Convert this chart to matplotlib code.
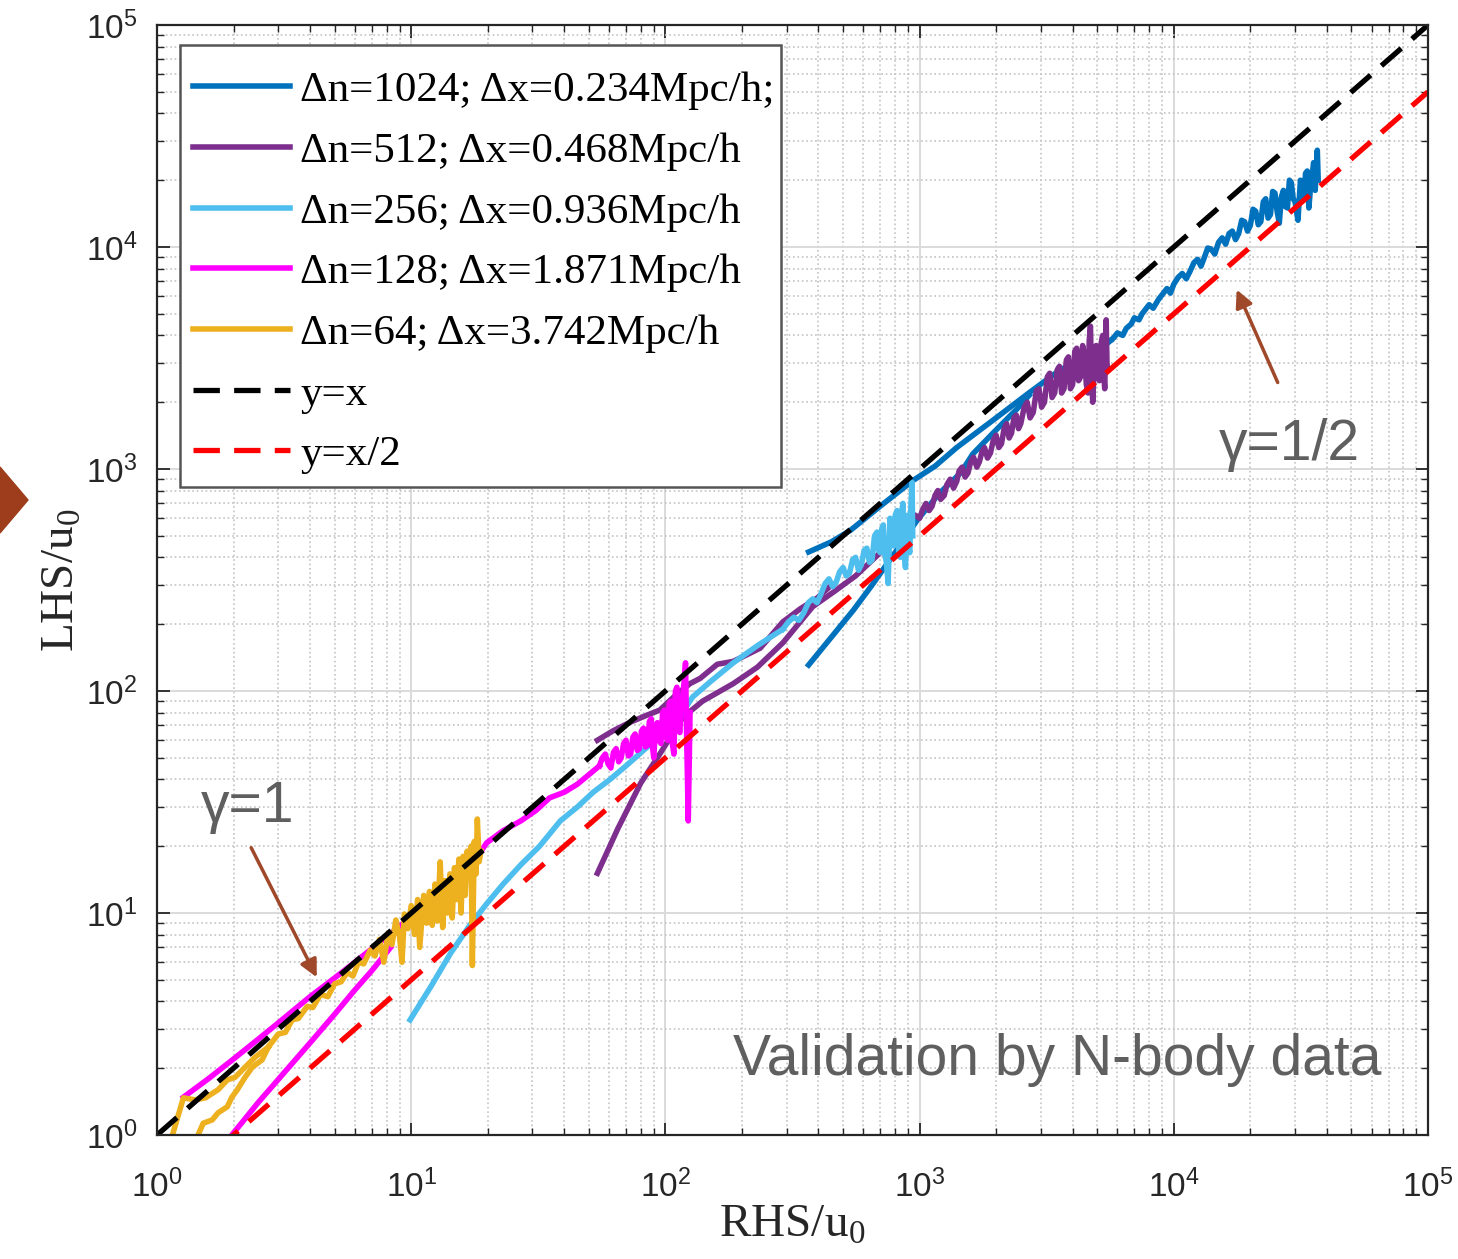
import numpy as np
import matplotlib
matplotlib.use('Agg')
import matplotlib.pyplot as plt
from matplotlib.patches import Polygon, Rectangle
from matplotlib.ticker import LogLocator, FuncFormatter, NullFormatter

# legend labels and colours (MATLAB default palette)
labels = ['Δn=1024; Δx=0.234Mpc/h;', 'Δn=512; Δx=0.468Mpc/h',
          'Δn=256; Δx=0.936Mpc/h', 'Δn=128; Δx=1.871Mpc/h',
          'Δn=64; Δx=3.742Mpc/h']
colors = ['#0072BD', '#7E2F8E', '#4DBEEE', '#FF00FF', '#EDB120']

# (RHS/u0, LHS/u0) points
blue_upper = [(366, 423), (450, 470), (535, 530), (700, 680), (945, 890), (1150, 1030),
              (1400, 1250), (2000, 1700), (2690, 2200), (3500, 2750), (4500, 3250), (5650, 3800)]
blue_lower = [(366, 131), (450, 175), (550, 232), (650, 300), (800, 420), (980, 590),
              (1200, 780), (1450, 960), (1620, 1170), (2000, 1500), (2400, 1850), (2700, 2150)]
blue_main = [(5500, 3700), (5800, 3900), (6000, 4100), (6300, 4000), (6500, 4300), (6800, 4500),
             (7000, 4800), (7300, 4700), (7500, 5000), (7800, 5300), (8000, 5500), (8300, 5300),
             (8700, 5800), (9000, 6100), (9400, 6500), (9700, 6200), (10000, 6800), (10400, 7300),
             (10800, 7600), (11200, 7200), (11600, 7800), (12000, 8500), (12400, 8800),
             (12800, 8200), (13200, 9000), (13600, 9900), (14000, 9800), (14500, 9300),
             (15000, 10500), (15500, 11000), (16000, 10300), (16500, 11500), (17000, 11800),
             (17500, 10800), (18000, 11500), (18500, 13200), (19000, 13000), (19500, 11800),
             (20000, 12500), (20500, 14800), (21000, 14500), (21500, 12600), (22000, 13000),
             (22500, 16000), (23000, 16500), (23500, 13500), (24000, 14000), (24500, 17800),
             (25000, 17500), (25500, 14500), (26000, 12800), (26500, 16800), (27000, 18000),
             (27500, 15200), (28000, 15000), (28500, 20000), (29000, 19500), (29500, 16500),
             (30000, 16000), (30800, 13200), (31500, 20000), (32000, 18500), (32500, 17000),
             (33000, 21500), (33500, 22000), (34000, 15000), (34500, 18500), (35000, 21000),
             (35500, 24000), (36000, 18000), (36400, 23000), (36700, 27300), (37000, 20000)]

purple_upper = [(54, 60), (62, 66), (72, 72), (85, 78), (95, 82), (110, 96), (125, 108),
                (137, 114), (160, 132), (185, 136), (210, 146), (236, 156), (290, 205),
                (340, 235), (395, 262), (450, 300)]
purple_lower = [(54, 15.1), (65, 24), (80, 38.5), (95, 52), (117, 76), (140, 90), (185, 108),
                (230, 128), (290, 165), (380, 240), (460, 280), (560, 330), (700, 420), (900, 560)]
purple_main = [(900, 560), (930, 600), (960, 620), (1000, 600), (1030, 660), (1060, 700),
               (1090, 650), (1120, 680), (1150, 760), (1180, 800), (1210, 730), (1250, 760),
               (1280, 850), (1320, 900), (1360, 820), (1400, 880), (1430, 980), (1470, 1020),
               (1510, 920), (1550, 960), (1590, 1080), (1630, 1130), (1680, 1020), (1720, 1080),
               (1760, 1200), (1800, 1250), (1850, 1120), (1900, 1180), (1950, 1350), (2000, 1420),
               (2050, 1250), (2100, 1300), (2150, 1520), (2200, 1600), (2250, 1380), (2300, 1450),
               (2350, 1700), (2400, 1750), (2450, 1520), (2500, 1600), (2580, 1900), (2650, 2000),
               (2720, 1700), (2800, 1800), (2880, 2250), (2950, 2300), (3020, 1900), (3100, 2000),
               (3180, 2600), (3250, 2700), (3320, 2100), (3400, 2200), (3480, 2800), (3550, 2900),
               (3620, 2200), (3700, 2300), (3780, 3100), (3850, 3200), (3920, 2300), (4000, 2400),
               (4080, 3400), (4150, 3500), (4220, 2500), (4300, 2600), (4380, 3600), (4450, 3300),
               (4530, 2400), (4600, 2200), (4650, 3800), (4700, 4400), (4750, 2600), (4800, 2000),
               (4880, 3200), (4950, 3600), (5020, 2700), (5100, 2500), (5180, 3700), (5250, 4000),
               (5300, 2700), (5350, 2300), (5400, 3900), (5420, 4700), (5460, 3000), (5500, 2800)]

lblue_lower = [(9.9, 3.3), (12, 4.7), (14.3, 6.6), (17, 8.8), (19.8, 11), (23, 13.5), (27, 16.5),
               (32, 20), (38.6, 26), (45, 30), (52, 35), (60.6, 40), (70, 46), (85, 56),
               (100, 66), (115, 78), (128, 94), (150, 110), (185, 134), (230, 160), (290, 190)]
lblue_main = [(290, 190), (305, 205), (320, 215), (335, 208), (350, 225), (365, 250), (380, 260),
              (395, 250), (410, 275), (425, 305), (440, 320), (455, 295), (470, 310), (485, 345),
              (500, 360), (515, 330), (530, 340), (545, 390), (560, 400), (575, 350), (590, 370),
              (605, 430), (620, 440), (635, 380), (650, 390), (665, 500), (680, 520), (690, 430),
              (700, 420), (710, 540), (720, 560), (730, 410), (740, 380), (752, 305), (765, 600),
              (778, 470), (790, 450), (802, 620), (815, 650), (828, 430), (840, 400), (850, 640),
              (860, 700), (870, 420), (880, 360), (890, 560), (900, 620), (908, 440), (915, 420),
              (925, 700), (935, 870), (938, 560), (940, 500)]

magenta_upper = [(1.27, 1.48), (1.6, 1.8), (2.0, 2.2), (2.5, 2.7), (3.0, 3.2), (4.0, 4.2),
                 (5.0, 5.1), (6.0, 6.0), (8.0, 7.8), (10, 9.6), (12, 11.5), (14, 13.5),
                 (16, 16), (18.2, 17.9), (19.8, 20.7), (23, 23.5), (27, 26), (31, 29),
                 (35, 33), (40, 35), (45, 38), (50, 42), (55, 46)]
magenta_lower = [(1.97, 1.0), (2.5, 1.4), (3.0, 1.78), (4.0, 2.6), (5.0, 3.5), (6.0, 4.5),
                 (7.0, 5.5), (8.3, 7.0)]
magenta_main = [(55, 46), (56.5, 50), (58, 52), (59.5, 47), (61, 45), (62.5, 53), (64, 55),
                (65.5, 48), (67, 50), (68.5, 58), (70, 60), (71.5, 51), (73, 52), (74.5, 62),
                (76, 64), (77.5, 54), (79, 55), (80.5, 66), (82, 68), (83.5, 56), (85, 57),
                (86.5, 73), (88, 75), (89, 56), (90, 50), (91.5, 70), (93, 72), (94.5, 60),
                (96, 58), (97.5, 80), (99, 82), (100.5, 62), (102, 60), (103.5, 88), (105, 90),
                (106.5, 58), (108, 52), (109.5, 100), (111, 104), (112.5, 68), (114, 65),
                (115.5, 92), (117, 95), (118.5, 110), (120, 134), (121, 70), (123, 26), (125, 80)]

orange_upper = [(1.15, 1.0), (1.27, 1.47), (1.41, 1.44), (1.55, 1.47), (1.74, 1.60),
                (1.89, 1.77), (2.03, 1.82), (2.22, 2.02), (2.43, 2.24), (2.74, 2.49)]
orange_lower = [(1.45, 1.0), (1.52, 1.13), (1.65, 1.17), (1.74, 1.26), (1.89, 1.34),
                (1.97, 1.48), (2.07, 1.60), (2.22, 1.82), (2.37, 2.02), (2.59, 2.18), (2.74, 2.49)]
orange_main = [(2.74, 2.49), (3.0, 2.85), (3.2, 2.9), (3.4, 3.3), (3.6, 3.35), (3.9, 3.8),
               (4.1, 3.75), (4.4, 4.3), (4.7, 4.2), (5.0, 4.8), (5.3, 4.9), (5.6, 5.4), (5.9, 5.2),
               (6.2, 6.0), (6.5, 5.9), (6.9, 6.8), (7.2, 6.4), (7.5, 7.6), (7.8, 6.0), (8.1, 8.1),
               (8.4, 7.2), (8.7, 9.3), (9.0, 7.8), (9.2, 6.0), (9.4, 9.9), (9.7, 8.5),
               (10.0, 10.8), (10.3, 8.0), (10.6, 11.5), (10.8, 7.0), (11.2, 12.0), (11.5, 9.0),
               (11.8, 12.5), (12.1, 8.8), (12.4, 13.5), (12.7, 9.2), (13.0, 17.0), (13.3, 8.6),
               (13.6, 14.0), (13.9, 10.0), (14.2, 15.0), (14.5, 9.5), (14.8, 16.0), (15.1, 11.5),
               (15.4, 17.5), (15.7, 10.0), (16.0, 18.0), (16.3, 12.0), (16.6, 19.0), (16.9, 14.5),
               (17.2, 20.0), (17.4, 5.8), (17.7, 21.0), (18.0, 15.0), (18.2, 26.5), (18.5, 17.0),
               (18.8, 19.0)]

series = [[blue_upper, blue_lower, blue_main],
          [purple_upper, purple_lower, purple_main],
          [lblue_lower, lblue_main],
          [magenta_lower, magenta_upper, magenta_main],
          [orange_lower, orange_upper, orange_main]]

ref_x = [1, 1e5]
ref_y1 = [1, 1e5]
ref_y2 = [0.5, 5e4]

plt.rcParams['font.family'] = 'Liberation Sans'

fig = plt.figure(figsize=(14.58, 12.59), dpi=100)
ax = fig.add_axes([0.1077, 0.0985, 0.8717, 0.8816])

handles = []
for segs, col in zip(series, colors):
    first = None
    for seg in segs:
        xs = [p[0] for p in seg]
        ys = [p[1] for p in seg]
        ln, = ax.plot(xs, ys, color=col, lw=4.0, solid_joinstyle='round')
        if first is None:
            first = ln
    handles.append(first)

h1, = ax.plot(ref_x, ref_y1, color='black', lw=3.8, ls=(0, (5, 2.7)))
h2, = ax.plot(ref_x, ref_y2, color='#FF0000', lw=3.8, ls=(0, (5, 2.7)))
handles += [h1, h2]

ax.set_xscale('log')
ax.set_yscale('log')
ax.set_xlim(1, 1e5)
ax.set_ylim(1, 1e5)

fmt = FuncFormatter(lambda v, p: r'$\mathregular{10^{%d}}$' % round(np.log10(v)))
for axis in (ax.xaxis, ax.yaxis):
    axis.set_major_locator(LogLocator(base=10, numticks=10))
    axis.set_minor_locator(LogLocator(base=10, subs=np.arange(2, 10), numticks=20))
    axis.set_major_formatter(fmt)
    axis.set_minor_formatter(NullFormatter())

ax.tick_params(which='both', direction='in', top=True, right=True, color='#262626')
ax.tick_params(which='major', length=9, width=1.3, labelsize=24, labelcolor='#262626')
ax.tick_params(which='minor', length=5, width=1.0)
ax.tick_params(axis='x', pad=25)
ax.tick_params(axis='y', pad=14)
for s in ax.spines.values():
    s.set_linewidth(1.6)
    s.set_color('#262626')

ax.grid(which='major', color='#DADADA', lw=1.4)
ax.grid(which='minor', color='#C4C4C4', lw=1.2, ls=':')
ax.set_axisbelow(True)

ax.set_xlabel(r'RHS/u$_\mathregular{0}$', family='Liberation Serif', fontsize=34,
              color='#262626', labelpad=0)
ax.set_ylabel(r'LHS/u$_\mathregular{0}$', family='Liberation Serif', fontsize=34,
              color='#262626', labelpad=2)

# legend entries without frame, frame drawn as a separate box
leg = ax.legend(handles, labels + ['y=x', 'y=x/2'], loc='upper left',
                bbox_to_anchor=(0.018, 0.970), borderaxespad=0, frameon=False,
                prop={'family': 'Liberation Serif', 'size': 31}, handlelength=2.25,
                handletextpad=0.25, labelspacing=0.5, borderpad=0.3)
ax.add_patch(Rectangle((0.0181, 0.5838), 0.4729, 0.3982, transform=ax.transAxes,
                       facecolor='white', edgecolor='#555555', lw=1.8, zorder=4.9))

brown = '#A0482A'
ax.annotate('', xy=(4.3, 5.0), xytext=(2.32, 20.2),
            arrowprops=dict(arrowstyle='-|>', color=brown, lw=2.5, mutation_scale=26))
ax.annotate('', xy=(17500, 6600), xytext=(25900, 2390),
            arrowprops=dict(arrowstyle='-|>', color=brown, lw=2.5, mutation_scale=26))

gray = '#5F5F5F'
ax.text(1.48, 25.7, 'γ=1', fontsize=41, color=gray, va='baseline')
ax.text(15000, 1100, 'γ=1/2', fontsize=41, color=gray, va='baseline')
ax.text(65300, 1.86, 'Validation by N-body data', fontsize=41, color=gray,
        va='baseline', ha='right')

# brown marker cut by the left edge of the image
fig.patches.append(Polygon([[0, 1 - 467 / 1259], [28 / 1458, 1 - 500 / 1259], [0, 1 - 533 / 1259]],
                           closed=True, transform=fig.transFigure, color='#9E3D1B'))

fig.savefig('out.png', dpi=100)
